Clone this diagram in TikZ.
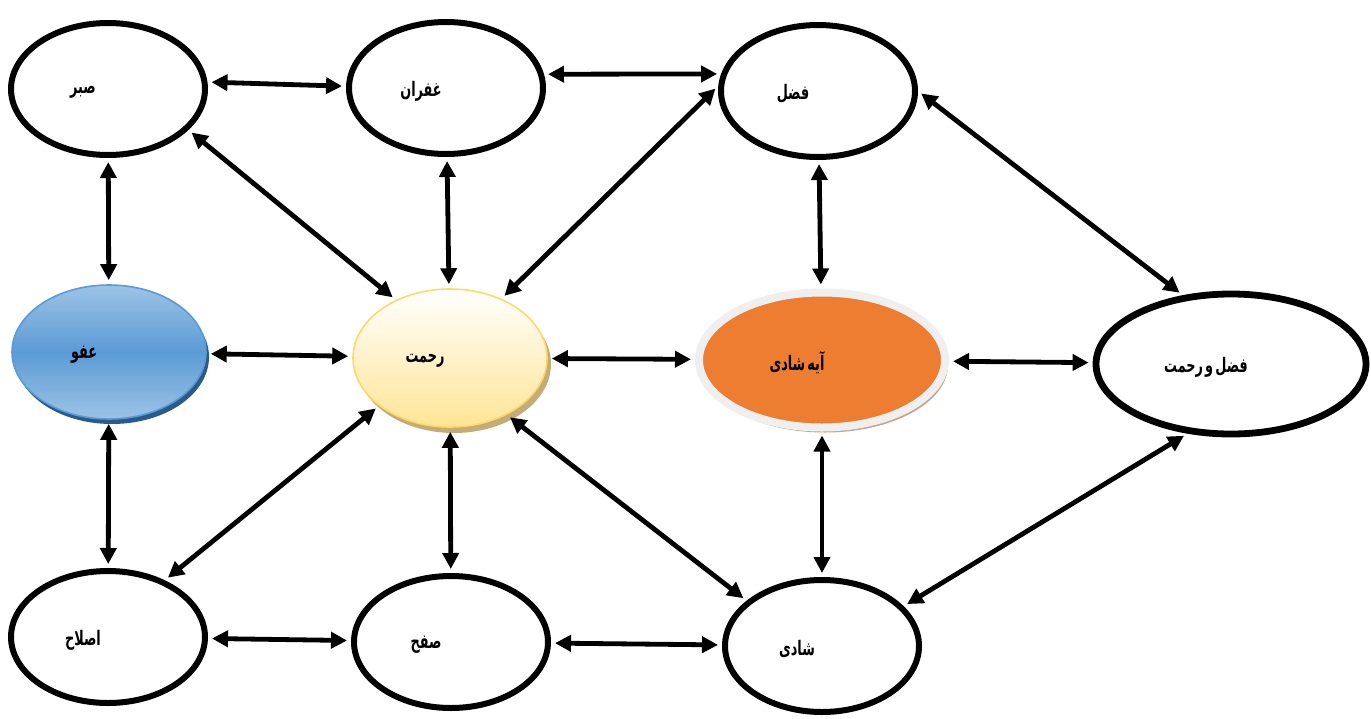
\documentclass[tikz,border=0pt]{standalone}
\usepackage{fontspec}
\newfontfamily\arabicfont[Script=Arabic,FakeStretch=0.64,WordSpace=0.5]{DejaVu Sans}
\TeXXeTstate=1
\usetikzlibrary{shapes.geometric,arrows.meta,shadows}
\definecolor{afublue}{HTML}{5B9BD5}
\definecolor{afulight}{HTML}{9DC3E6}
\definecolor{afushadow}{HTML}{2A5A8C}
\definecolor{rahmatedge}{HTML}{FFD966}
\definecolor{rahmatlow}{HTML}{FFE596}
\definecolor{rahmatshadow}{HTML}{C4AC78}
\definecolor{ayehfill}{HTML}{ED7D31}
\definecolor{ayehedge}{HTML}{EFEFEF}
\definecolor{ayehshadow}{HTML}{C7A391}
\begin{document}
\begin{tikzpicture}[x=0.5pt,y=-0.5pt,
  lbl/.style={font=\arabicfont\bfseries\fontsize{10}{12}\selectfont,xshift=-12.5pt,yshift=-1.5pt,inner sep=0pt},
  oval/.style={ellipse,draw,line width=3pt,minimum width=97pt,minimum height=66pt,inner sep=0pt},
  afuoval/.style={ellipse,draw=afublue,line width=0.8pt,minimum width=97pt,minimum height=67pt,
    inner sep=0pt,top color=afulight,bottom color=afulight,middle color=afublue,
    drop shadow={shadow xshift=1.5pt,shadow yshift=-2.5pt,fill=afushadow,opacity=1}},
  rahmatoval/.style={ellipse,draw=rahmatedge,line width=0.8pt,minimum width=97pt,minimum height=69pt,
    inner sep=0pt,top color=white,bottom color=rahmatlow,
    drop shadow={shadow xshift=2pt,shadow yshift=-3pt,fill=rahmatshadow,opacity=1}},
  ayehoval/.style={ellipse,draw=ayehedge,line width=4pt,minimum width=123pt,minimum height=67.5pt,
    inner sep=0pt,fill=ayehfill,
    drop shadow={shadow xshift=1.5pt,shadow yshift=-2.5pt,fill=ayehshadow,opacity=1}}]
% positions in pixels of the sheet, y grows downward
\ifx\linklw\undefined\newdimen\linklw\fi
\global\def\linkdraw{\draw[line width=\linklw,{Triangle[length=8pt,width=8pt]}-{Triangle[length=8pt,width=8pt]},shorten <=2pt,shorten >=2pt]}
\global\def\linkstop{;}
\linklw=2.4pt
\useasboundingbox (0,0) rectangle (1371,718);
\node[oval,label={[lbl]center:\beginR صبر\endR}] (sabr) at (108,89) {};
\node[oval,label={[lbl]center:\beginR غفران\endR}] (ghofran) at (446,88) {};
\node[oval,label={[lbl]center:\beginR فضل\endR}] (fazl) at (818,91) {};
\node[afuoval,label={[lbl]center:\beginR عفو\endR}] (afv) at (109,352) {};
\node[rahmatoval,label={[lbl]center:\beginR رحمت\endR}] (rahmat) at (450,358) {};
\node[ayehoval,label={[lbl]center:\beginR آیه شادی\endR}] (ayeh) at (822,360) {};
\node[oval,line width=3.4pt,minimum width=135pt,minimum height=70pt,label={[lbl]center:\beginR فضل و رحمت\endR}] (fazlrahmat) at (1231,364) {};
\node[oval,label={[lbl]center:\beginR اصلاح\endR}] (eslah) at (108,637) {};
\node[oval,label={[lbl]center:\beginR صفح\endR}] (safh) at (451,642) {};
\node[oval,label={[lbl]center:\beginR شادی\endR}] (shadi) at (822,646) {};
\linkdraw (sabr.4) -- (ghofran.179)\linkstop
\linkdraw (ghofran.8) -- (fazl.170)\linkstop
\linkdraw (sabr) -- (afv)\linkstop
\linkdraw (sabr.-27) -- (rahmat.133)\linkstop
\linkdraw (ghofran) -- (rahmat)\linkstop
\linkdraw (fazl.177) -- (rahmat.49)\linkstop
\linkdraw (fazl) -- (ayeh)\linkstop
\linkdraw (fazl.0) -- (fazlrahmat.125)\linkstop
\linkdraw (afv) -- (rahmat)\linkstop
\linkdraw (rahmat) -- (ayeh)\linkstop
\linkdraw (ayeh) -- (fazlrahmat)\linkstop
\linkdraw (afv) -- (eslah)\linkstop
\linkdraw (rahmat.214) -- (eslah.45)\linkstop
\linkdraw (rahmat) -- (safh)\linkstop
\linkdraw (rahmat.-45) -- (shadi.149)\linkstop
\linkdraw (ayeh) -- (shadi)\linkstop
\linkdraw (fazlrahmat.238) -- (shadi.26)\linkstop
\linkdraw (eslah) -- (safh)\linkstop
\linkdraw (safh) -- (shadi)\linkstop
\end{tikzpicture}
\end{document}
